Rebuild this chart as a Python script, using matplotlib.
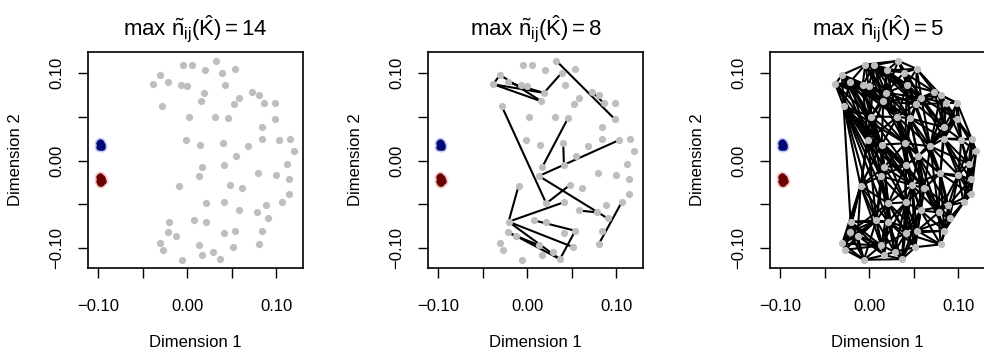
import matplotlib
matplotlib.use("Agg")
import matplotlib.pyplot as plt

plt.rcParams['font.family'] = ['Liberation Sans', 'DejaVu Sans']
plt.rcParams['mathtext.fontset'] = 'custom'
plt.rcParams['mathtext.rm'] = 'Liberation Sans'
plt.rcParams['mathtext.it'] = 'Liberation Sans'

# gray points (Dimension 1, Dimension 2)
pts_x = [-0.0045, 0.0056, 0.0326, 0.0195, 0.0390, 0.0532, -0.0307, -0.0217, -0.0382, -0.0075,
         -0.0007, 0.0187, 0.0423, -0.0288, 0.0157, 0.0584, 0.0524, 0.0730, 0.0801, 0.0861,
         0.0989, 0.0015, 0.0315, 0.0457, 0.0981, 0.0839, -0.0015, 0.0139, 0.0404, 0.0685,
         0.0839, 0.1034, 0.1150, 0.1202, 0.0551, 0.0412, 0.0169, 0.0131, -0.0097, 0.0479,
         0.0618, 0.0798, 0.1000, 0.1116, 0.1139, 0.1142, 0.1060, 0.0888, 0.0779, 0.0903,
         0.0577, 0.0408, 0.0213, -0.0210, 0.0079, 0.0213, -0.0221, -0.0131, 0.0408, 0.0539,
         0.0843, -0.0303, -0.0273, 0.0135, 0.0517, 0.0801, -0.0060, 0.0169, 0.0285, 0.0367]
pts_y = [0.1097, 0.1090, 0.1139, 0.1029, 0.1006, 0.1048, 0.0979, 0.0895, 0.0872, 0.0861,
         0.0850, 0.0773, 0.0869, 0.0625, 0.0678, 0.0720, 0.0644, 0.0785, 0.0750, 0.0655,
         0.0655, 0.0503, 0.0499, 0.0484, 0.0476, 0.0381, 0.0236, 0.0183, 0.0198, 0.0164,
         0.0251, 0.0236, 0.0248, 0.0110, 0.0053, -0.0053, -0.0072, -0.0175, -0.0286, -0.0278,
         -0.0312, -0.0145, -0.0164, -0.0034, -0.0213, -0.0385, -0.0476, -0.0510, -0.0590, -0.0659,
         -0.0568, -0.0476, -0.0488, -0.0697, -0.0682, -0.0697, -0.0819, -0.0857, -0.0830, -0.0800,
         -0.0800, -0.0945, -0.1017, -0.0968, -0.0987, -0.0956, -0.1131, -0.1078, -0.1040, -0.1124]

# two tight clusters on the left
blue_x = [-0.0995, -0.0982, -0.0968, -0.0960, -0.0986, -0.0972, -0.0962, -0.0984, -0.0974]
blue_y = [0.0200, 0.0210, 0.0205, 0.0178, 0.0158, 0.0153, 0.0158, 0.0180, 0.0182]
red_x = [-0.0996, -0.0982, -0.0960, -0.0950, -0.0964, -0.0984, -0.0994, -0.0972, -0.0976]
red_y = [-0.0190, -0.0178, -0.0198, -0.0230, -0.0252, -0.0258, -0.0232, -0.0215, -0.0232]

# edges between gray points (1-based indices)
edges_mid = [(7, 9), (7, 15), (9, 15), (9, 12), (8, 12), (12, 5), (3, 25), (18, 20),
             (24, 37), (14, 53), (29, 36), (38, 32), (38, 50), (54, 52), (53, 40),
             (39, 54), (54, 70), (54, 65), (57, 58), (58, 70), (55, 60), (60, 70),
             (57, 64), (47, 66), (51, 49)]

neighbours = {
    1: [2, 3, 4, 7, 8, 10, 11, 12, 15, 13, 16, 23], 2: [3, 4, 5, 10, 11, 12, 13, 15, 22, 16, 17, 24],
    3: [4, 5, 6, 12, 13, 16], 4: [5, 6, 11, 12, 13, 15, 17, 23], 5: [6, 12, 13, 16, 17, 18, 24],
    6: [13, 16, 17, 18, 19], 7: [8, 9, 10, 11, 12, 14, 15, 22, 23, 27, 28],
    8: [9, 10, 11, 12, 14, 15, 22, 27, 23, 28, 29], 9: [10, 11, 12, 14, 22, 28, 15, 27],
    10: [11, 12, 15, 22, 23, 24, 27, 28], 11: [12, 15, 22, 23, 17],
    12: [13, 15, 16, 17, 22, 23, 24, 29], 13: [16, 17, 18, 23, 24, 29, 30, 26],
    14: [22, 27, 28, 37, 38, 39, 29, 53, 36, 40, 55, 54, 56], 15: [16, 17, 22, 23, 24, 27, 28, 29],
    16: [17, 18, 19, 20, 24, 26, 30, 31, 25], 17: [18, 19, 20, 23, 24, 29, 30, 26],
    18: [19, 20, 21, 25, 26], 19: [20, 21, 25, 26, 31, 30, 32], 20: [21, 25, 26, 31, 30],
    21: [25, 26, 31, 32, 33], 22: [23, 27, 28, 29, 37, 38, 39, 36],
    23: [24, 27, 28, 29, 30, 35, 36, 40, 41], 24: [26, 29, 30, 31, 35, 41, 42, 36],
    25: [26, 31, 32, 33, 34, 30], 26: [30, 31, 32, 42, 35], 27: [28, 37, 38, 39, 36, 53, 55, 40],
    28: [29, 36, 37, 38, 39, 40, 52, 53, 41], 29: [30, 35, 36, 37, 40, 41, 52, 42],
    30: [31, 35, 36, 41, 42, 43, 48, 49, 44], 31: [32, 33, 42, 43, 44, 45, 46],
    32: [33, 34, 43, 44, 45], 33: [34, 44, 45, 43], 34: [44, 45, 46],
    35: [36, 40, 41, 42, 48, 49, 51], 36: [37, 38, 40, 41, 52, 53, 51, 59],
    37: [38, 39, 40, 53, 55, 56, 52], 38: [39, 40, 53, 55, 56, 52],
    39: [53, 54, 55, 57, 58, 62, 64, 56, 63], 40: [41, 42, 51, 52, 53, 59, 60, 65, 49],
    41: [42, 48, 49, 51, 52, 60, 50, 61, 59], 42: [43, 45, 46, 48, 49, 50, 61],
    43: [44, 45, 46, 47, 48, 49, 50], 44: [45, 46, 47], 45: [46, 47, 48], 46: [47, 48, 50],
    47: [48, 50, 61], 48: [49, 50, 61, 51], 49: [50, 51, 60, 61, 66], 50: [61, 66, 60],
    51: [52, 59, 60, 65, 61, 66, 70], 52: [53, 56, 59, 60, 65, 64, 69, 70],
    53: [55, 56, 59, 64, 69, 60, 65, 57], 54: [55, 57, 58, 62, 63, 64, 56, 67, 68],
    55: [56, 57, 58, 64, 68, 67, 62, 63, 69], 56: [59, 64, 68, 69, 65, 70, 60],
    57: [58, 62, 63, 64, 67], 58: [62, 63, 64, 67, 68], 59: [60, 65, 69, 70, 66, 61, 64],
    60: [65, 66, 61, 70], 61: [66], 62: [63, 64, 67], 63: [67, 64], 64: [67, 68, 69],
    65: [66, 69, 70], 67: [68, 70], 68: [69, 70], 69: [70],
}
edges_dense = [(a, b) for a, nb in neighbours.items() for b in nb]

max_n = [14, 8, 5]
panel_edges = [[], edges_mid, edges_dense]
xticks = [-0.10, -0.05, 0.00, 0.05, 0.10]
yticks = [-0.10, -0.05, 0.00, 0.05, 0.10]

fig = plt.figure(figsize=(9.84, 3.53), dpi=100)
lefts = [88, 428, 770]
for k in range(3):
    ax = fig.add_axes([lefts[k] / 984, 85 / 353, 215 / 984, 216 / 353])
    for a, b in panel_edges[k]:
        ax.plot([pts_x[a - 1], pts_x[b - 1]], [pts_y[a - 1], pts_y[b - 1]],
                color='black', lw=1.5, zorder=1, solid_capstyle='butt')
    ax.plot(pts_x, pts_y, 'o', color='#bebebe', ms=5.2, mec='none', zorder=2)
    ax.plot(blue_x, blue_y, 'o', color='#c8cbf6', ms=7, mec='none', zorder=3)
    ax.plot(red_x, red_y, 'o', color='#f5c8c8', ms=7, mec='none', zorder=3)
    ax.plot(blue_x, blue_y, 'o', color='#000878', ms=4.6, mec='none', zorder=4)
    ax.plot(red_x, red_y, 'o', color='#6a0000', ms=4.6, mec='none', zorder=4)

    ax.set_xlim(-0.1115, 0.130)
    ax.set_ylim(-0.1225, 0.124)
    ax.set_xticks(xticks)
    ax.set_xticklabels(['\u22120.10', '', '0.00', '', '0.10'])
    ax.set_yticks(yticks)
    ax.set_yticklabels(['\u22120.10', '', '0.00', '', '0.10'], rotation=90, va='center')
    ax.tick_params(length=7, width=1, labelsize=12, direction='out')
    ax.tick_params(axis='x', pad=15)
    ax.tick_params(axis='y', pad=10)
    for s in ax.spines.values():
        s.set_linewidth(1.2)
    ax.set_xlabel('Dimension 1', fontsize=12, va='center')
    ax.set_ylabel('Dimension 2', fontsize=12, va='center')
    ax.xaxis.set_label_coords(0.5, -0.347)
    ax.yaxis.set_label_coords(-0.335, 0.5)
    ax.set_title(r'max $\tilde{n}_{ij}(\hat{K}) = %d$' % max_n[k], fontsize=16, pad=12)

fig.savefig('out.png', dpi=100)
